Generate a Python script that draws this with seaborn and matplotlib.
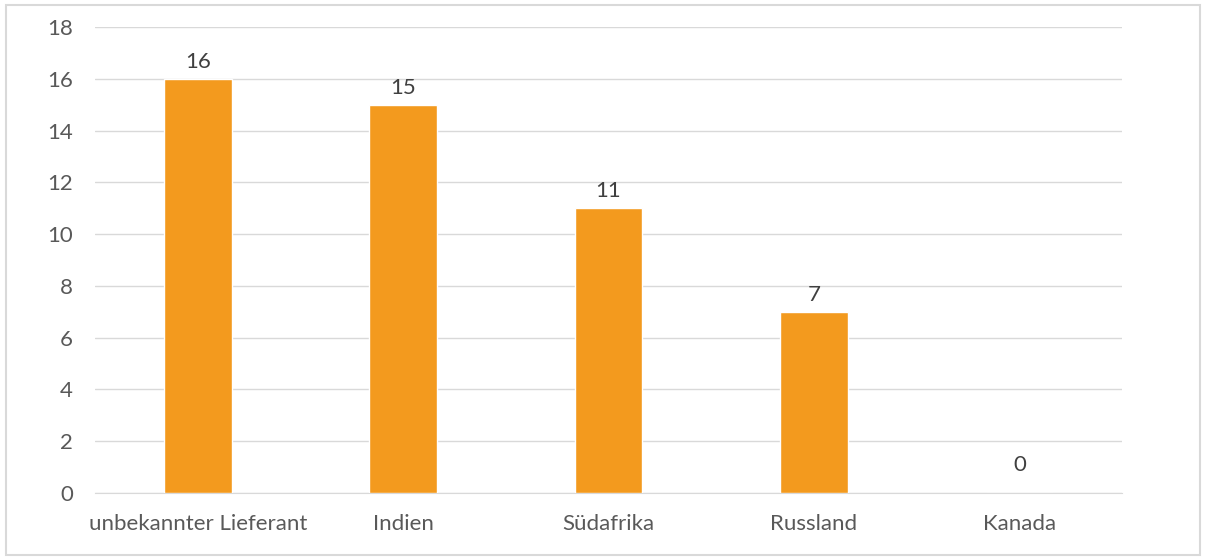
import matplotlib
matplotlib.use("Agg")
import matplotlib.pyplot as plt
import seaborn as sns
import pandas as pd
from matplotlib.patches import Rectangle

# Data
countries = ["unbekannter Lieferant", "Indien", "Südafrika", "Russland", "Kanada"]
counts = [16, 15, 11, 7, 0]

df = pd.DataFrame({"land": countries, "anzahl": counts})

sns.set_style("white")
plt.rcParams["font.family"] = ["Lato", "DejaVu Sans"]

text_color = "#595959"
bar_color = "#F39A1E"

fig = plt.figure(figsize=(12.07, 5.6), dpi=100)
ax = fig.add_axes([0.0787, 0.1196, 0.851, 0.832])

sns.barplot(data=df, x="land", y="anzahl", color=bar_color, width=0.33,
            saturation=1, ax=ax, zorder=3)

ax.set_ylim(0, 18)
ax.set_yticks(range(0, 19, 2))
ax.set_xlim(-0.5, len(countries) - 0.5)
ax.grid(axis="y", color="#D9D9D9", linewidth=1, zorder=0)
ax.set_axisbelow(True)
for s in ["top", "right", "left"]:
    ax.spines[s].set_visible(False)
ax.spines["bottom"].set_color("#D9D9D9")
ax.tick_params(axis="both", length=0, labelsize=16, colors=text_color)
ax.tick_params(axis="x", pad=15)
ax.tick_params(axis="y", pad=16)
ax.set_xlabel("")
ax.set_ylabel("")

# Excel puts the zero label a bit higher than the others
bars = ax.containers[0]
nonzero = [str(v) if v else "" for v in counts]
zero = ["0" if v == 0 else "" for v in counts]
ax.bar_label(bars, labels=nonzero, padding=5, fontsize=16, color="#404040")
ax.bar_label(bars, labels=zero, padding=13, fontsize=16, color="#404040")

# light frame around the whole chart
fig.patches.append(Rectangle((6 / 1207, 5 / 560), 1194 / 1207, 550 / 560,
                             transform=fig.transFigure, fill=False,
                             edgecolor="#D9D9D9", linewidth=1.5))

fig.savefig("out.png", dpi=100)
